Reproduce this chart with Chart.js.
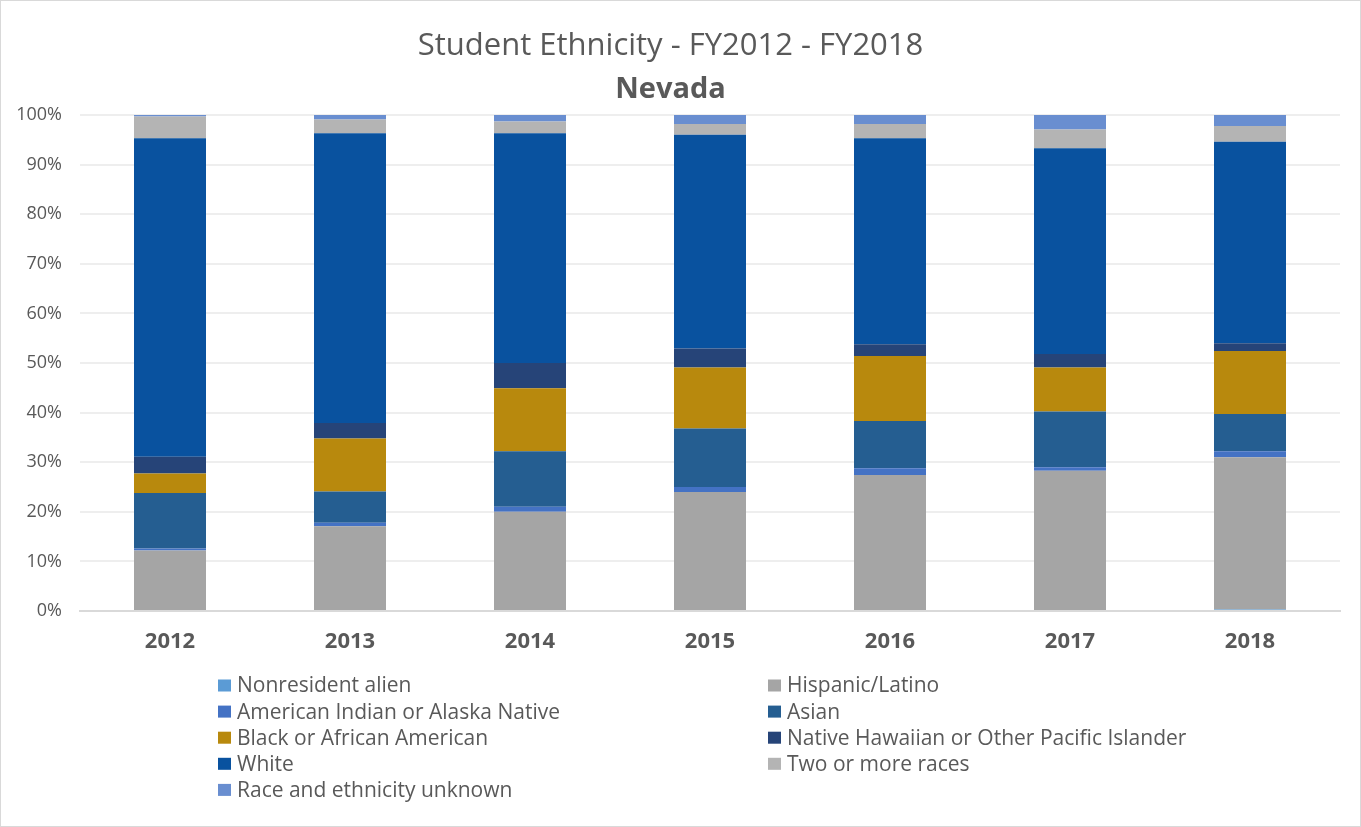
<!DOCTYPE html>
<html>
<head>
<meta charset="utf-8">
<script src="https://cdn.jsdelivr.net/npm/chart.js@4"></script>
<style>
  html, body { margin: 0; padding: 0; background: #fff; }
  #wrap { position: relative; width: 1359px; height: 825px; border: 1px solid #d9d9d9; }
</style>
</head>
<body>
<div id="wrap"><canvas id="myChart"></canvas></div>
<script>
const years = ['2012', '2013', '2014', '2015', '2016', '2017', '2018'];

// shares of enrolment, percent, bottom of the stack first
const nonresident = [0, 0, 0, 0, 0, 0, 0.3];
const hispanic    = [12.2, 17.1, 20.0, 24.0, 27.4, 28.3, 30.7];
const amIndian    = [0.4, 0.7, 1.0, 1.0, 1.4, 0.7, 1.2];
const asian       = [11.2, 6.3, 11.2, 11.8, 9.5, 11.2, 7.5];
const black       = [3.9, 10.7, 12.7, 12.3, 13.1, 8.9, 12.7];
const pacific     = [3.4, 3.1, 5.1, 3.8, 2.4, 2.7, 1.6];
const white       = [64.2, 58.4, 46.3, 43.1, 41.5, 41.5, 40.6];
const twoOrMore   = [4.4, 2.8, 2.4, 2.2, 2.9, 3.8, 3.2];
const unknown     = [0.3, 0.9, 1.3, 1.8, 1.8, 2.9, 2.2];

const yTicks = [0, 10, 20, 30, 40, 50, 60, 70, 80, 90, 100];

const FONT = '"Open Sans", Lato, sans-serif';
const GREY = '#595959';

const series = [
  { label: 'Nonresident alien', data: nonresident, color: '#5b9bd5' },
  { label: 'Hispanic/Latino', data: hispanic, color: '#a5a5a5' },
  { label: 'American Indian or Alaska Native', data: amIndian, color: '#4472c4' },
  { label: 'Asian', data: asian, color: '#255e91' },
  { label: 'Black or African American', data: black, color: '#b8890d' },
  { label: 'Native Hawaiian or Other Pacific Islander', data: pacific, color: '#264478' },
  { label: 'White', data: white, color: '#09529f' },
  { label: 'Two or more races', data: twoOrMore, color: '#b4b4b4' },
  { label: 'Race and ethnicity unknown', data: unknown, color: '#698ed0' }
];

// two-column legend under the plot, filled row by row
const gridLegend = {
  id: 'gridLegend',
  afterDraw(chart) {
    const c = chart.ctx;
    const cols = [217, 767];
    const top = 684.5, rowH = 26.1;
    c.save();
    c.font = '21px ' + FONT;
    c.textBaseline = 'middle';
    chart.data.datasets.forEach((ds, i) => {
      const x = cols[i % 2];
      const y = top + Math.floor(i / 2) * rowH;
      c.fillStyle = ds.backgroundColor;
      c.fillRect(x, y - 6, 13, 12);
      c.fillStyle = GREY;
      c.fillText(ds.label, x + 19, y + 1);
    });
    c.restore();
  }
};

const ctx = document.getElementById('myChart');
const myChart = new Chart(ctx, {
  type: 'bar',
  data: {
    labels: years,
    datasets: series.map(s => ({
      label: s.label,
      data: s.data,
      backgroundColor: s.color,
      borderWidth: 0,
      categoryPercentage: 0.8,
      barPercentage: 0.5
    }))
  },
  options: {
    responsive: true,
    maintainAspectRatio: false,
    animation: false,
    layout: { padding: { left: 0, right: 20, top: 0, bottom: 170 } },
    plugins: {
      legend: { display: false },
      tooltip: { enabled: false },
      title: {
        display: true,
        text: 'Student Ethnicity - FY2012 - FY2018',
        color: GREY,
        font: { family: FONT, size: 31, weight: 'normal' },
        padding: { top: 27, bottom: 7 }
      },
      subtitle: {
        display: true,
        text: 'Nevada',
        color: GREY,
        font: { family: FONT, size: 29, weight: 'bold' },
        padding: { top: 0, bottom: 8 }
      }
    },
    scales: {
      x: {
        stacked: true,
        afterFit(axis) { axis.height = 45; },
        grid: { display: false, drawTicks: false },
        border: { color: '#d9d9d9', width: 2 },
        ticks: { color: GREY, font: { family: FONT, size: 22, weight: 'bold' }, padding: 18 }
      },
      y: {
        stacked: true,
        min: 0,
        max: 100,
        afterFit(axis) { axis.width = 79; },
        afterBuildTicks(axis) { axis.ticks = yTicks.map(v => ({ value: v })); },
        grid: { color: '#eeeeee', lineWidth: 2, drawTicks: false },
        border: { display: false },
        ticks: {
          color: GREY,
          font: { family: FONT, size: 18 },
          padding: 18,
          callback: v => v + '%'
        }
      }
    }
  },
  plugins: [gridLegend]
});
</script>
</body>
</html>
